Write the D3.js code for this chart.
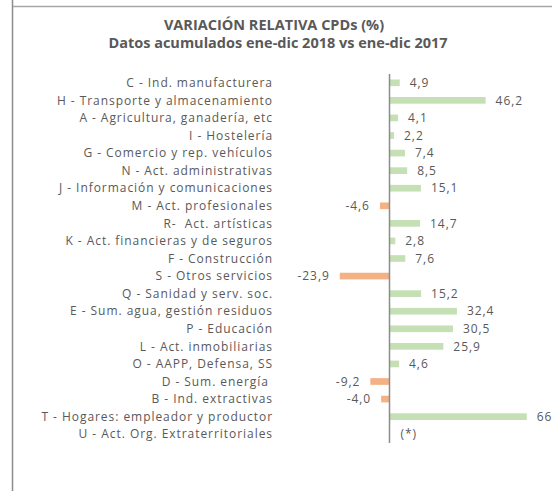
<!DOCTYPE html>
<html>
<head>
<meta charset="utf-8">
<script src="https://cdn.jsdelivr.net/npm/d3@7"></script>
<style>
    body { margin: 0; background: #fff; }
    svg { display: block; font-family: "Open Sans", sans-serif; }
</style>
</head>
<body>
<svg></svg>
<script>
let width = 552, height = 491;

let categories = [
    "C - Ind. manufacturera",
    "H - Transporte y almacenamiento",
    "A - Agricultura, ganadería, etc",
    "I - Hostelería",
    "G - Comercio y rep. vehículos",
    "N - Act. administrativas",
    "J - Información y comunicaciones",
    "M - Act. profesionales",
    "R-  Act. artísticas",
    "K - Act. financieras y de seguros",
    "F - Construcción",
    "S - Otros servicios",
    "Q - Sanidad y serv. soc.",
    "E - Sum. agua, gestión residuos",
    "P - Educación",
    "L - Act. inmobiliarias",
    "O - AAPP, Defensa, SS",
    "D - Sum. energía ",
    "B - Ind. extractivas",
    "T - Hogares: empleador y productor",
    "U - Act. Org. Extraterritoriales"
];
let values = [4.9, 46.2, 4.1, 2.2, 7.4, 8.5, 15.1, -4.6, 14.7, 2.8, 7.6, -23.9, 15.2, 32.4, 30.5, 25.9, 4.6, -9.2, -4.0, 66, null];
let valueLabels = ["4,9", "46,2", "4,1", "2,2", "7,4", "8,5", "15,1", "-4,6", "14,7", "2,8", "7,6", "-23,9", "15,2", "32,4", "30,5", "25,9", "4,6", "-9,2", "-4,0", "66", "(*)"];

let data = categories.map((c, i) => ({ cat: c, value: values[i], label: valueLabels[i] }));

let svg = d3.select("svg")
    .attr("width", width)
    .attr("height", height);

// frame lines (chart is cropped on the right/bottom)
svg.append("line")
    .attr("x1", 12.5).attr("x2", 12.5).attr("y1", 0).attr("y2", height)
    .attr("stroke", "#8c8c8c").attr("stroke-width", 1.5);
svg.append("line")
    .attr("x1", 13).attr("x2", width).attr("y1", 6.5).attr("y2", 6.5)
    .attr("stroke", "#a6a6a6").attr("stroke-width", 1.5);

// titles
svg.append("text")
    .attr("x", 274).attr("y", 30)
    .attr("text-anchor", "middle")
    .attr("font-size", 14.5).attr("font-weight", "bold")
    .attr("fill", "#595959")
    .text("VARIACIÓN RELATIVA CPDs (%)");
svg.append("text")
    .attr("x", 278).attr("y", 48)
    .attr("text-anchor", "middle")
    .attr("font-size", 14.5).attr("font-weight", "bold")
    .attr("fill", "#595959")
    .text("Datos acumulados ene-dic 2018 vs ene-dic 2017");

let x = d3.scaleLinear()
    .domain([-30, 70])
    .range([389.5 - 30 * 2.08, 389.5 + 70 * 2.08]);

let y = d3.scaleBand()
    .domain(categories)
    .range([74, 443])
    .paddingInner(0.62)
    .paddingOuter(0.31);

let bars = svg.append("g")
    .selectAll("rect")
    .data(data.filter(d => d.value != null))
    .enter()
    .append("rect")
    .attr("x", d => x(Math.min(0, d.value)))
    .attr("width", d => Math.abs(x(d.value) - x(0)))
    .attr("y", d => y(d.cat))
    .attr("height", y.bandwidth())
    .attr("fill", d => d.value < 0 ? "#f4b183" : "#c5e0b4");

// category labels
svg.append("g")
    .selectAll("text")
    .data(data)
    .enter()
    .append("text")
    .attr("x", 273)
    .attr("y", d => y(d.cat) + y.bandwidth() / 2)
    .attr("dy", "0.35em")
    .attr("text-anchor", "end")
    .attr("font-size", 12)
    .attr("letter-spacing", 0.95)
    .attr("fill", "#595959")
    .style("white-space", "pre")
    .text(d => d.cat);

// value labels
svg.append("g")
    .selectAll("text")
    .data(data)
    .enter()
    .append("text")
    .attr("x", d => {
        if (d.value == null) return x(0) + 11;
        return d.value < 0 ? x(d.value) - 10 : x(d.value) + 10;
    })
    .attr("y", d => y(d.cat) + y.bandwidth() / 2)
    .attr("dy", "0.35em")
    .attr("text-anchor", d => d.value < 0 ? "end" : "start")
    .attr("font-size", 12)
    .attr("letter-spacing", 0.95)
    .attr("fill", "#595959")
    .text(d => d.label);

// zero axis
svg.append("line")
    .attr("x1", x(0)).attr("x2", x(0))
    .attr("y1", 74).attr("y2", 443)
    .attr("stroke", "#8c8c8c").attr("stroke-width", 1.5);
</script>
</body>
</html>
